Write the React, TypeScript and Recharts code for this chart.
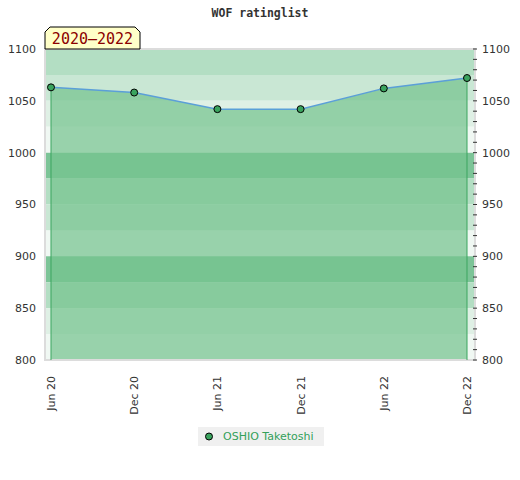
import React from 'react';
import { ComposedChart, Area, Line, XAxis, YAxis, ReferenceArea, ReferenceLine } from 'recharts';

const periods = ['Jun 20', 'Dec 20', 'Jun 21', 'Dec 21', 'Jun 22', 'Dec 22'];
const ratings = [1063, 1058, 1042, 1042, 1062, 1072];
const seriesName = 'OSHIO Taketoshi';
const title = 'WOF ratinglist';
const rangeLabel = '2020\u20132022';
const leftTicks = [800, 850, 900, 950, 1000, 1050, 1100];
const rightTicks = [800, 810, 820, 830, 840, 850, 860, 870, 880, 890, 900, 910, 920, 930, 940, 950, 960, 970, 980, 990, 1000, 1010, 1020, 1030, 1040, 1050, 1060, 1070, 1080, 1090, 1100];
const bandLows = [1075, 1050, 1025, 1000, 975, 950, 925, 900, 875, 850, 825, 800];
const bandColors = ['#b3dec3', '#c9e7d4', '#dff0e5', '#f0f8f3', '#7cc497', '#b3dec3', '#c9e7d4', '#f0f8f3', '#7cc497', '#b3dec3', '#dff0e5', '#f0f8f3'];
const xIndexes = [0, 1, 2, 3, 4, 5];
const xDomain = [-0.072, 5.096];

const data = periods.map((p, i) => ({ idx: xIndexes[i], period: p, rating: ratings[i] }));

const XTick = (props: any) => {
  const { x, y, payload } = props;
  return (
    <text transform={`translate(${x + 4},${y + 8}) rotate(-90)`} textAnchor="end" fontSize={11} fill="#333" fontFamily="DejaVu Sans">
      {periods[payload.value]}
    </text>
  );
};

const RightTick = (props: any) => {
  const { x, y, payload } = props;
  const major = payload.value % 50 === 0;
  return (
    <g>
      <line x1={x - 2} x2={x + 2} y1={y} y2={y} stroke="#333" strokeWidth={1} />
      {major && (
        <text x={x + 7} y={y} dy="0.355em" textAnchor="start" fontSize={11} fill="#333" fontFamily="DejaVu Sans">
          {payload.value}
        </text>
      )}
    </g>
  );
};

const FrameShape = (props: any) => {
  const { x, y, width, height } = props;
  const tx = x;
  const tw = 95;
  const th = 22;
  const c = 5;
  return (
    <g>
      <rect x={x} y={y} width={width} height={height} fill="none" stroke="#dcdcdc" strokeWidth={2} />
      <path
        d={`M${tx},${y} L${tx},${y - th + c} L${tx + c},${y - th} L${tx + tw - c},${y - th} L${tx + tw},${y - th + c} L${tx + tw},${y} Z`}
        fill="#ffffc8"
        stroke="#000"
        strokeWidth={1}
      />
      <text x={tx + tw / 2} y={y - 5} textAnchor="middle" fontSize={15} fill="#8b0000" fontFamily="DejaVu Sans Mono">
        {rangeLabel}
      </text>
    </g>
  );
};

export default function App() {
  return (
    <div style={{ position: 'absolute', left: 0, top: 0, width: 520, height: 480, background: '#fff' }}>
      <div style={{ position: 'absolute', left: 0, top: 6, width: 520, textAlign: 'center', fontFamily: 'DejaVu Sans Mono', fontWeight: 'bold', fontSize: 11.5, color: '#333' }}>
        {title}
      </div>
      <ComposedChart width={520} height={480} data={data} margin={{ top: 49, right: 0, bottom: 0, left: 0 }} style={{ fontFamily: 'DejaVu Sans' }}>
        <XAxis dataKey="idx" type="number" domain={xDomain} ticks={xIndexes} allowDataOverflow height={120} tickLine={false} axisLine={false} tick={<XTick />} interval={0} />
        <YAxis yAxisId="l" width={45} domain={[800, 1100]} ticks={leftTicks} tickLine={false} axisLine={false} tickSize={0} tickMargin={9} tick={{ fontSize: 11, fill: '#333' }} />
        <YAxis yAxisId="r" orientation="right" width={45} domain={[800, 1100]} ticks={rightTicks} tickLine={false} axisLine={false} tickSize={0} tickMargin={0} tick={<RightTick />} interval={0} />
        {bandLows.map((lo, i) => (
          <ReferenceArea key={lo} yAxisId="l" y1={lo} y2={lo + 25} fill={bandColors[i]} fillOpacity={1} stroke="none" />
        ))}
        <Area yAxisId="l" type="linear" dataKey="rating" baseValue={800} stroke="none" fill="rgb(118,195,143)" fillOpacity={0.72} isAnimationActive={false} />
        <ReferenceLine yAxisId="l" segment={[{ x: xIndexes[0], y: 800 }, { x: xIndexes[0], y: ratings[0] }]} stroke="#3aa55f" strokeWidth={1} />
        <ReferenceLine yAxisId="l" segment={[{ x: xIndexes[xIndexes.length - 1], y: 800 }, { x: xIndexes[xIndexes.length - 1], y: ratings[ratings.length - 1] }]} stroke="#3aa55f" strokeWidth={1} />
        <ReferenceArea yAxisId="l" shape={<FrameShape />} />
        <Line yAxisId="r" type="linear" dataKey="rating" name={seriesName} stroke="#5b9fd8" strokeWidth={1.5} dot={{ r: 3.5, fill: '#3aa35e', stroke: '#000', strokeWidth: 1 }} activeDot={false} isAnimationActive={false} />
      </ComposedChart>
      <div style={{ position: 'absolute', left: 198, top: 427, width: 126, height: 19, background: '#f0f0f0', display: 'flex', alignItems: 'center', fontFamily: 'DejaVu Sans', fontSize: 11, color: '#33a05a' }}>
        <svg width={25} height={19} style={{ display: 'block' }}>
          <circle cx={11} cy={9.5} r={3.5} fill="#3aa35e" stroke="#000" strokeWidth={1} />
        </svg>
        <span>{seriesName}</span>
      </div>
    </div>
  );
}
